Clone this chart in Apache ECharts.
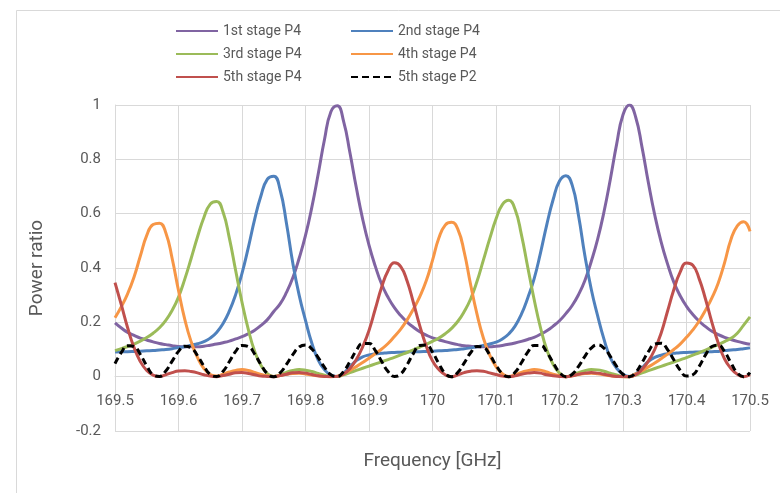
<!DOCTYPE html>
<html>
<head>
<meta charset="utf-8">
<script src="https://cdn.jsdelivr.net/npm/echarts@6/dist/echarts.min.js"></script>
<style>
  html, body { margin: 0; padding: 0; background: #ffffff; }
  #chart { width: 780px; height: 493px; }
</style>
</head>
<body>
<div id="chart"></div>
<script>
// Frequency samples [GHz]
const freq = [
  169.50,169.51,169.52,169.53,169.54,169.55,169.56,169.57,169.58,169.59,
  169.60,169.61,169.62,169.63,169.64,169.65,169.66,169.67,169.68,169.69,
  169.70,169.71,169.72,169.73,169.74,169.75,169.76,169.77,169.78,169.79,
  169.80,169.81,169.82,169.83,169.84,169.85,169.86,169.87,169.88,169.89,
  169.90,169.91,169.92,169.93,169.94,169.95,169.96,169.97,169.98,169.99,
  170.00,170.01,170.02,170.03,170.04,170.05,170.06,170.07,170.08,170.09,
  170.10,170.11,170.12,170.13,170.14,170.15,170.16,170.17,170.18,170.19,
  170.20,170.21,170.22,170.23,170.24,170.25,170.26,170.27,170.28,170.29,
  170.30,170.31,170.32,170.33,170.34,170.35,170.36,170.37,170.38,170.39,
  170.40,170.41,170.42,170.43,170.44,170.45,170.46,170.47,170.48,170.49,
  170.50
];

const stage1P4 = [
  0.198,0.179,0.163,0.152,0.142,0.135,0.128,0.122,0.118,0.114,
  0.111,0.110,0.110,0.110,0.112,0.116,0.120,0.125,0.131,0.139,
  0.147,0.158,0.171,0.189,0.210,0.240,0.268,0.310,0.364,0.436,
  0.520,0.624,0.746,0.874,0.975,0.997,0.940,0.824,0.696,0.580,
  0.484,0.406,0.340,0.292,0.254,0.225,0.201,0.182,0.165,0.153,
  0.143,0.136,0.129,0.123,0.118,0.114,0.112,0.110,0.110,0.110,
  0.112,0.115,0.119,0.124,0.130,0.137,0.145,0.156,0.169,0.186,
  0.206,0.232,0.262,0.302,0.354,0.424,0.505,0.606,0.726,0.856,
  0.964,1.000,0.955,0.844,0.714,0.595,0.496,0.416,0.348,0.298,
  0.259,0.229,0.204,0.184,0.167,0.155,0.145,0.137,0.130,0.124,
  0.119
];

const stage2P4 = [
  0.091,0.092,0.092,0.093,0.094,0.095,0.096,0.098,0.100,0.103,
  0.107,0.110,0.116,0.121,0.129,0.142,0.163,0.195,0.241,0.302,
  0.380,0.476,0.580,0.667,0.727,0.738,0.688,0.565,0.418,0.300,
  0.207,0.123,0.061,0.025,0.006,0.001,0.014,0.037,0.059,0.073,
  0.080,0.084,0.086,0.088,0.089,0.090,0.091,0.092,0.092,0.093,
  0.094,0.095,0.096,0.098,0.100,0.103,0.106,0.110,0.115,0.120,
  0.127,0.139,0.157,0.186,0.230,0.290,0.360,0.455,0.560,0.652,
  0.720,0.740,0.705,0.592,0.445,0.322,0.225,0.138,0.070,0.031,
  0.009,0.001,0.011,0.033,0.056,0.071,0.079,0.084,0.086,0.088,
  0.089,0.090,0.091,0.091,0.092,0.093,0.096,0.098,0.100,0.103,
  0.106
];

const stage3P4 = [
  0.096,0.103,0.111,0.120,0.131,0.144,0.160,0.180,0.207,0.244,
  0.293,0.360,0.436,0.515,0.586,0.635,0.645,0.607,0.511,0.391,
  0.274,0.173,0.093,0.041,0.011,0.001,0.007,0.016,0.023,0.026,
  0.024,0.019,0.012,0.005,0.001,0.001,0.007,0.015,0.023,0.031,
  0.039,0.047,0.055,0.063,0.071,0.080,0.089,0.099,0.109,0.119,
  0.130,0.142,0.158,0.178,0.204,0.240,0.286,0.350,0.428,0.507,
  0.580,0.633,0.649,0.616,0.523,0.403,0.285,0.181,0.099,0.045,
  0.013,0.000,0.006,0.015,0.022,0.026,0.025,0.020,0.013,0.006,
  0.001,0.000,0.006,0.014,0.022,0.030,0.038,0.046,0.054,0.062,
  0.070,0.079,0.088,0.098,0.108,0.118,0.129,0.141,0.160,0.190,
  0.220
];

const stage4P4 = [
  0.217,0.258,0.306,0.367,0.445,0.520,0.560,0.565,0.530,0.435,
  0.317,0.210,0.128,0.070,0.030,0.008,0.002,0.009,0.017,0.023,
  0.026,0.023,0.016,0.008,0.003,0.001,0.004,0.009,0.012,0.013,
  0.010,0.006,0.003,0.001,0.000,0.002,0.011,0.023,0.037,0.052,
  0.068,0.085,0.102,0.122,0.148,0.175,0.209,0.249,0.295,0.352,
  0.428,0.510,0.558,0.568,0.542,0.458,0.339,0.231,0.143,0.080,
  0.037,0.011,0.001,0.007,0.016,0.022,0.026,0.024,0.017,0.009,
  0.004,0.000,0.003,0.008,0.012,0.013,0.011,0.007,0.003,0.001,
  0.000,0.001,0.010,0.022,0.036,0.050,0.066,0.083,0.100,0.120,
  0.145,0.172,0.205,0.245,0.290,0.345,0.420,0.505,0.555,0.570,
  0.535
];

const stage5P4 = [
  0.346,0.264,0.179,0.107,0.055,0.023,0.006,0.001,0.007,0.015,
  0.021,0.022,0.019,0.014,0.007,0.002,0.000,0.004,0.009,0.014,
  0.015,0.012,0.007,0.002,0.001,0.000,0.004,0.009,0.014,0.015,
  0.013,0.008,0.003,0.001,0.001,0.001,0.010,0.030,0.063,0.110,
  0.170,0.250,0.330,0.390,0.419,0.405,0.352,0.272,0.187,0.114,
  0.058,0.026,0.007,0.000,0.007,0.015,0.020,0.022,0.020,0.014,
  0.008,0.002,0.000,0.003,0.009,0.013,0.015,0.013,0.007,0.003,
  0.001,0.000,0.003,0.009,0.013,0.015,0.013,0.009,0.004,0.001,
  0.001,0.000,0.007,0.027,0.057,0.100,0.160,0.240,0.320,0.385,
  0.418,0.410,0.360,0.285,0.200,0.124,0.065,0.030,0.009,0.000,
  0.007
];

const stage5P2 = [
  0.048,0.089,0.114,0.111,0.081,0.040,0.007,0.001,0.021,0.057,
  0.093,0.112,0.106,0.077,0.039,0.008,0.001,0.019,0.055,0.093,
  0.115,0.111,0.083,0.044,0.011,0.000,0.014,0.045,0.081,0.109,
  0.117,0.102,0.070,0.034,0.007,0.001,0.019,0.056,0.096,0.122,
  0.122,0.096,0.056,0.019,0.001,0.010,0.044,0.086,0.115,0.117,
  0.090,0.048,0.012,0.000,0.016,0.051,0.088,0.111,0.108,0.081,
  0.043,0.011,0.000,0.016,0.051,0.090,0.115,0.115,0.090,0.051,
  0.016,0.000,0.009,0.038,0.075,0.105,0.117,0.105,0.075,0.038,
  0.009,0.000,0.016,0.052,0.092,0.120,0.123,0.100,0.062,0.024,
  0.002,0.007,0.038,0.080,0.111,0.116,0.092,0.051,0.014,0.000,
  0.015
];

const seriesNames = ['1st stage P4','2nd stage P4','3rd stage P4','4th stage P4','5th stage P4','5th stage P2'];
const seriesValues = [stage1P4, stage2P4, stage3P4, stage4P4, stage5P4, stage5P2];
const seriesColors = ['#8064A2','#4F81BD','#9BBB59','#F79646','#C0504D','#000000'];

const FONT = 'Roboto, "Noto Sans", sans-serif';
const TEXT = '#595959';
const GRID = '#d9d9d9';

const Y_MIN = -0.2, Y_MAX = 1;
const GRID_TOP = 105, GRID_BOTTOM = 62, CHART_H = 493;
const plotH = CHART_H - GRID_TOP - GRID_BOTTOM;
// shift the frequency axis up so it sits on the zero line
const zeroShift = -plotH * (0 - Y_MIN) / (Y_MAX - Y_MIN);

const pairs = vals => freq.map((f, i) => [f, vals[i]]);

const series = seriesNames.map((name, s) => ({
  name: name,
  type: 'line',
  data: pairs(seriesValues[s]),
  smooth: true,
  symbol: 'none',
  showSymbol: false,
  color: seriesColors[s],
  lineStyle: {
    color: seriesColors[s],
    width: 3,
    type: s === 5 ? [7, 4] : 'solid'
  },
  z: 2 + s
}));

const legendCommon = {
  orient: 'vertical',
  top: 19,
  itemWidth: 42,
  itemHeight: 14,
  itemGap: 9,
  itemStyle: { opacity: 0, borderWidth: 0 },
  textStyle: { color: TEXT, fontSize: 14, fontFamily: FONT }
};

const chart = echarts.init(document.getElementById('chart'), null, { renderer: 'canvas' });
chart.setOption({
  animation: false,
  backgroundColor: '#ffffff',
  graphic: [{
    type: 'rect',
    silent: true,
    z: -10,
    shape: { x: 16.5, y: 10.5, width: 900, height: 700 },
    style: { fill: 'none', stroke: GRID, lineWidth: 1 }
  }],
  legend: [
    Object.assign({ left: 170, data: ['1st stage P4','3rd stage P4','5th stage P4'] }, legendCommon),
    Object.assign({ left: 345, data: ['2nd stage P4','4th stage P4','5th stage P2'] }, legendCommon)
  ],
  grid: {
    left: 115, right: 30, top: GRID_TOP, bottom: GRID_BOTTOM,
    containLabel: false,
    outerBoundsMode: 'none'
  },
  xAxis: {
    type: 'value',
    min: 169.5,
    max: 170.5,
    interval: 0.1,
    offset: zeroShift,
    name: 'Frequency [GHz]',
    nameLocation: 'middle',
    nameGap: 75,
    nameTextStyle: { color: TEXT, fontSize: 19, fontFamily: FONT },
    axisLine: { show: true, onZero: false, lineStyle: { color: GRID, width: 1 } },
    axisTick: { show: false },
    axisLabel: { color: TEXT, fontSize: 15, fontFamily: FONT, margin: 17 },
    splitLine: { show: true, lineStyle: { color: GRID, width: 1 } }
  },
  yAxis: {
    type: 'value',
    min: Y_MIN,
    max: Y_MAX,
    interval: 0.2,
    name: 'Power ratio',
    nameLocation: 'middle',
    nameGap: 68,
    nameTextStyle: { color: TEXT, fontSize: 19, fontFamily: FONT },
    axisLine: { show: true, lineStyle: { color: GRID, width: 1 } },
    axisTick: { show: false },
    axisLabel: { color: TEXT, fontSize: 15, fontFamily: FONT, margin: 14 },
    splitLine: { show: true, lineStyle: { color: GRID, width: 1 } }
  },
  series: series
});
</script>
</body>
</html>
